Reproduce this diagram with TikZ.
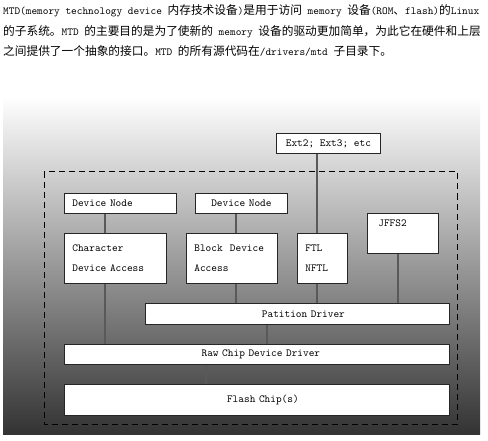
\documentclass[tikz,border=0pt]{standalone}
\usepackage{fontspec}
\newfontfamily\cjk{Noto Sans CJK SC}
\newcommand\zh[1]{{\cjk\fontsize{11.7}{12}\selectfont #1}}
\newcommand\en[1]{{\ttfamily\fontsize{10.8}{12}\selectfont #1}}

\begin{document}
\begin{tikzpicture}[x=1pt,y=-1pt,
  blk/.style={draw=black!85,fill=white,line width=0.8pt,anchor=north west,
    inner xsep=8pt,inner ysep=0pt,font=\ttfamily\fontsize{10.8}{20}\selectfont},
  wire/.style={draw=black!65,line width=1.2pt},
  txt/.style={anchor=base west,inner sep=0pt}]
\useasboundingbox (0,0) rectangle (488,441);
\fill[white] (0,0) rectangle (488,441);
\shade[top color=white,middle color=black!25,bottom color=black!80] (3,96) rectangle (480,434);

% text above the diagram
\node[txt] (ln1) at (3,15) {\en{MTD(memory technology device }\zh{内存技术设备}\en{)}\zh{是用于访问}\en{ memory }\zh{设备}\en{(ROM}\zh{、}\en{flash)}\zh{的}\en{Linux}};
\node[txt] (ln2) at (3,36) {\zh{的子系统。}\en{MTD }\zh{的主要目的是为了使新的}\en{ memory }\zh{设备的驱动更加简单，为此它在硬件和上层}};
\node[txt] (ln3) at (3,56) {\zh{之间提供了一个抽象的接口。}\en{MTD }\zh{的所有源代码在}\en{/drivers/mtd }\zh{子目录下。}};

% MTD subsystem
\draw[line width=1pt,dash pattern=on 6pt off 4pt] (44,172) rectangle (457.5,424);

\node[blk,minimum width=104pt,minimum height=20pt] (ext) at (276,133) {Ext2; Ext3; etc};
\node[blk,minimum height=20pt,text width=96pt,align=left] (dn1) at (64,193) {Device Node};
\node[blk,minimum height=20pt,text width=76pt,align=center] (dn2) at (195,193) {Device Node};
\node[blk,minimum height=50pt,text width=86pt,align=left] (chr) at (64,233) {Character\\Device Access};
\node[blk,minimum height=50pt,text width=75pt,align=left] (bda) at (186,233) {Block~~Device\\Access};
\node[blk,minimum height=50pt,text width=34pt,align=left] (ftl) at (297,233) {FTL\\NFTL};
\node[blk,minimum height=40pt,inner xsep=11pt,text width=49pt,align=left] (jffs) at (367,213) {JFFS2\\\mbox{}};
\node[blk,minimum height=21pt,text width=288pt,align=center] (part) at (145,303) {\hspace*{12pt}Patition Driver};
\node[blk,minimum height=20pt,text width=369pt,align=center] (raw) at (64,344) {\hspace*{8pt}Raw Chip Device Driver};
\node[blk,minimum height=31pt,text width=369pt,align=center] (flash) at (64,384) {\hspace*{12pt}Flash Chip(s)};

% connectors
\draw[wire] ([xshift=20pt]ftl.north west |- ext.south) -- ([xshift=20pt]ftl.north west);
\draw[wire] ([xshift=41pt]dn1.south west) -- ([xshift=41pt]dn1.south west |- chr.north);
\draw[wire] ([xshift=41pt]dn2.south west) -- ([xshift=41pt]dn2.south west |- bda.north);
\draw[wire] ([xshift=41pt]chr.south west) -- ([xshift=41pt]chr.south west |- raw.north);
\draw[wire] ([xshift=50pt]bda.south west) -- ([xshift=50pt]bda.south west |- part.north);
\draw[wire] ([xshift=20pt]ftl.south west) -- ([xshift=20pt]ftl.south west |- part.north);
\draw[wire] ([xshift=31pt]jffs.south west) -- ([xshift=31pt]jffs.south west |- part.north);
\draw[wire] ([xshift=122pt]part.south west) -- ([xshift=122pt]part.south west |- raw.north);
\draw[wire] ([xshift=142pt]raw.south west) -- ([xshift=142pt]raw.south west |- flash.north);
\end{tikzpicture}
\end{document}
